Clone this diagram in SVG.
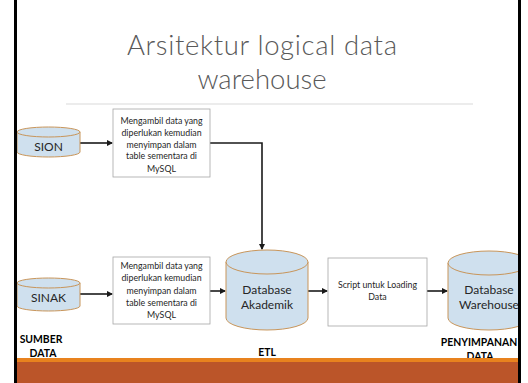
<svg xmlns="http://www.w3.org/2000/svg" width="528" height="383" viewBox="0 0 528 383">
<defs>
<style>
.cyl{fill:#cfe0ee;stroke:#c8955a;stroke-width:1}
.box{fill:#ffffff;stroke:#a6a6a6;stroke-width:0.8}
.conn{fill:none;stroke:#1a1a1a;stroke-width:1.6}
.t{font-family:Lato,"Liberation Sans",sans-serif;fill:#262626;text-anchor:middle}
.bt{font-size:8.8px}
.ct{font-size:12px}
.lab{font-family:Lato,"Liberation Sans",sans-serif;font-weight:bold;font-size:10.4px;fill:#000;text-anchor:middle}
.title{font-family:Lato,"Liberation Sans",sans-serif;font-weight:300;font-size:27.5px;fill:#595959;text-anchor:middle}
</style>
<marker id="ah" viewBox="0 0 6 6" refX="5" refY="3" markerWidth="4" markerHeight="4" orient="auto" markerUnits="strokeWidth">
<path d="M0,0 L6,3 L0,6 z" fill="#1a1a1a"/>
</marker>
</defs>
<rect x="0" y="0" width="528" height="383" fill="#ffffff"/>
<text class="title" x="262" y="55" textLength="270" lengthAdjust="spacing">Arsitektur logical data</text>
<text class="title" x="262" y="89">warehouse</text>
<line x1="66" y1="104" x2="473" y2="104" stroke="#d9d9d9" stroke-width="1.2"/>

<g id="connectors">
<line class="conn" x1="80" y1="143" x2="112" y2="143" marker-end="url(#ah)"/>
<polyline class="conn" points="210,143 262,143 262,249" marker-end="url(#ah)"/>
<line class="conn" x1="80" y1="294" x2="112" y2="294" marker-end="url(#ah)"/>
<line class="conn" x1="210" y1="291" x2="225" y2="291" marker-end="url(#ah)"/>
<line class="conn" x1="308" y1="291" x2="327" y2="291" marker-end="url(#ah)"/>
<line class="conn" x1="427" y1="291" x2="447" y2="291" marker-end="url(#ah)"/>
</g>

<g id="sion">
<path class="cyl" d="M17,132 L17,152 A31.5,5 0 0 0 80,152 L80,132"/>
<ellipse class="cyl" cx="48.5" cy="132" rx="31.5" ry="5"/>
<text class="t ct" x="48.5" y="150.5">SION</text>
</g>

<g id="sinak">
<path class="cyl" d="M17,283 L17,306 A31.5,5 0 0 0 80,306 L80,283"/>
<ellipse class="cyl" cx="48.5" cy="283" rx="31.5" ry="5"/>
<text class="t ct" x="48.5" y="301.5">SINAK</text>
</g>

<g id="box1">
<rect class="box" x="113" y="109" width="97" height="68"/>
<text class="t bt" x="161.5" y="124">Mengambil data yang</text>
<text class="t bt" x="161.5" y="136">diperlukan kemudian</text>
<text class="t bt" x="161.5" y="147.5">menyimpan dalam</text>
<text class="t bt" x="161.5" y="159">table sementara di</text>
<text class="t bt" x="161.5" y="171.5">MySQL</text>
</g>

<g id="box2">
<rect class="box" x="113" y="257" width="97" height="67"/>
<text class="t bt" x="161.5" y="269">Mengambil data yang</text>
<text class="t bt" x="161.5" y="281">diperlukan kemudian</text>
<text class="t bt" x="161.5" y="293.5">menyimpan dalam</text>
<text class="t bt" x="161.5" y="305.5">table sementara di</text>
<text class="t bt" x="161.5" y="318">MySQL</text>
</g>

<g id="db-akademik">
<path class="cyl" d="M226,262 L226,318 A41,12 0 0 0 308,318 L308,262"/>
<ellipse class="cyl" cx="267" cy="262" rx="41" ry="12"/>
<text class="t ct" x="267" y="294">Database</text>
<text class="t ct" x="267" y="308.5">Akademik</text>
</g>

<g id="script">
<rect class="box" x="328" y="258" width="99" height="68"/>
<text class="t bt" x="377.5" y="288">Script untuk Loading</text>
<text class="t bt" x="377.5" y="300">Data</text>
</g>

<g id="db-warehouse">
<path class="cyl" d="M448,263 L448,318 A41,12 0 0 0 530,318 L530,263"/>
<ellipse class="cyl" cx="489" cy="263" rx="41" ry="12"/>
<text class="t ct" x="489" y="294">Database</text>
<text class="t ct" x="489" y="308.5">Warehouse</text>
</g>

<g id="labels">
<text class="lab" x="41" y="343">SUMBER</text>
<text class="lab" x="43" y="357">DATA</text>
<text class="lab" x="267" y="356">ETL</text>
<text class="lab" x="479" y="346">PENYIMPANAN</text>
<text class="lab" x="480" y="360">DATA</text>
</g>

<rect x="14" y="358" width="506" height="4" fill="#e8821e"/>
<rect x="14" y="362" width="506" height="21" fill="#bb5529"/>
<rect x="521" y="0" width="7" height="383" fill="#ffffff"/>
<rect x="14" y="0" width="3" height="383" fill="#000000"/>
<rect x="518" y="0" width="3" height="383" fill="#000000"/>
</svg>
